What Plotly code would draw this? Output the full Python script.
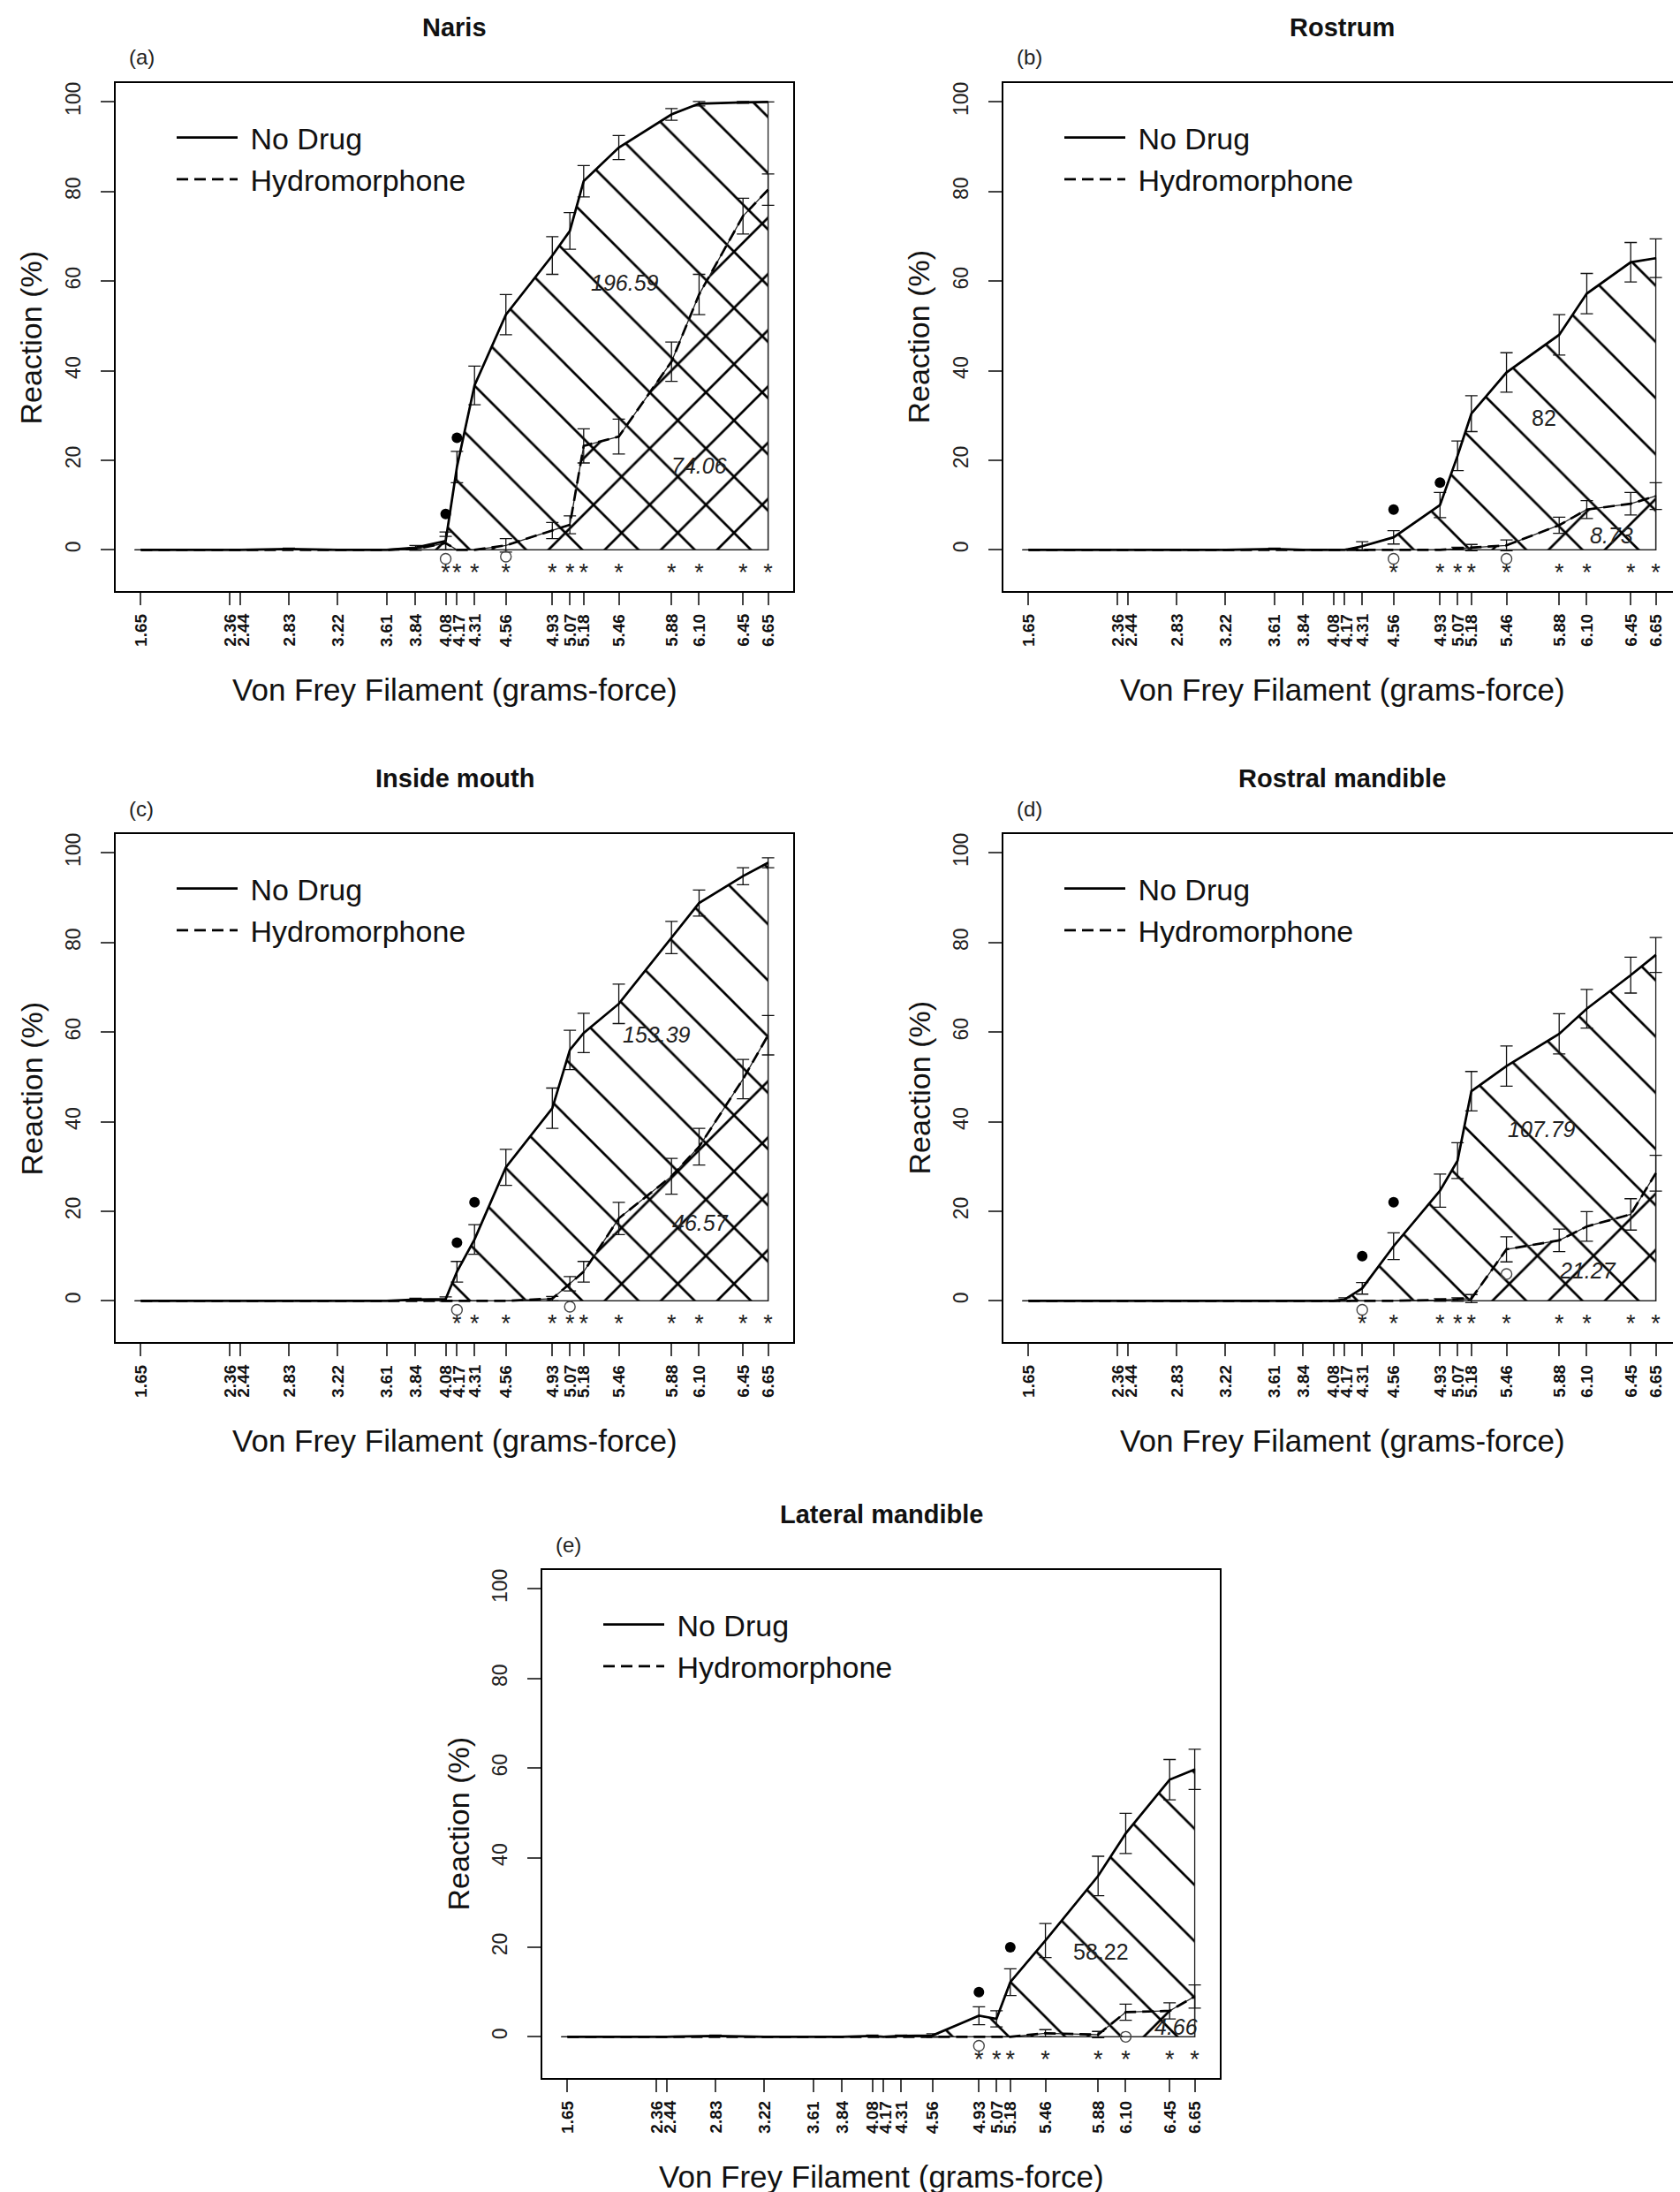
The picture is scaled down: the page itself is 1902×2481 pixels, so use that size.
import plotly.graph_objects as go

# Von Frey filaments (grams-force), x positions of every point
filaments = [1.65, 2.36, 2.44, 2.83, 3.22, 3.61, 3.84, 4.08, 4.17, 4.31,
             4.56, 4.93, 5.07, 5.18, 5.46, 5.88, 6.10, 6.45, 6.65]
filament_labels = [f'{v:.2f}' for v in filaments]
y_ticks = [0, 20, 40, 60, 80, 100]

# (a) Naris
naris_nodrug = [0, 0, 0, 0.2, 0, 0, 0.5, 2, 18.5, 36.7, 52.5, 65.7, 71.2, 82.3, 89.8, 97.2, 99.6, 99.9, 100]
naris_nodrug_se = [0, 0, 0, 0.2, 0, 0, 0.5, 2, 3.5, 4.3, 4.5, 4.2, 4.1, 3.5, 2.7, 1.3, 0.5, 0.2, 0]
naris_hydro = [0, 0, 0, 0, 0, 0, 0.2, 1.5, 0, 0, 1, 4.3, 5.6, 23.2, 25.3, 42, 57, 74.5, 80.4]
naris_hydro_se = [0, 0, 0, 0, 0, 0, 0.3, 1.5, 0, 0, 1.5, 1.8, 2, 3.8, 3.9, 4.4, 4.5, 4, 3.5]
naris_stars = [4.08, 4.17, 4.31, 4.56, 4.93, 5.07, 5.18, 5.46, 5.88, 6.10, 6.45, 6.65]
naris_open_x, naris_open_y = [4.08, 4.56], [-2, -1.5]
naris_dot_x, naris_dot_y = [4.08, 4.17], [8, 25]
naris_area_x, naris_area_y = [5.51, 6.10], [59.6, 18.9]
naris_area_text = ['196.59', '74.06']
naris_area_italic = [True, True]

# (b) Rostrum
rostrum_nodrug = [0, 0, 0, 0, 0, 0.2, 0, 0, 0, 0.8, 2.8, 10, 21, 30.4, 39.6, 48, 57.2, 64.2, 65.1]
rostrum_nodrug_se = [0, 0, 0, 0, 0, 0.2, 0, 0, 0, 1, 1.5, 2.8, 3.3, 4, 4.4, 4.5, 4.5, 4.4, 4.3]
rostrum_hydro = [0, 0, 0, 0, 0, 0, 0, 0, 0, 0, 0, 0, 0.3, 0.5, 1, 5.5, 9, 10.3, 12]
rostrum_hydro_se = [0, 0, 0, 0, 0, 0, 0, 0, 0, 0, 0, 0, 0.3, 0.7, 1.2, 1.8, 2, 2.5, 3]
rostrum_stars = [4.56, 4.93, 5.07, 5.18, 5.46, 5.88, 6.10, 6.45, 6.65]
rostrum_open_x, rostrum_open_y = [4.56, 5.46], [-2, -2]
rostrum_dot_x, rostrum_dot_y = [4.56, 4.93], [9, 15]
rostrum_area_x, rostrum_area_y = [5.76, 6.30], [29.5, 3.3]
rostrum_area_text = ['82', '8.73']
rostrum_area_italic = [False, True]

# (c) Inside mouth
mouth_nodrug = [0, 0, 0, 0, 0, 0, 0.3, 0.4, 6.5, 13.7, 29.8, 43, 56, 59.8, 66.3, 81.1, 88.8, 94.8, 97.8]
mouth_nodrug_se = [0, 0, 0, 0, 0, 0, 0.3, 0.5, 2.3, 3.3, 4, 4.5, 4.4, 4.4, 4.4, 3.6, 2.9, 1.9, 1.1]
mouth_hydro = [0, 0, 0, 0, 0, 0, 0, 0, 0, 0, 0, 0.5, 3.8, 6.5, 18.4, 27.8, 34.4, 49.5, 59.3]
mouth_hydro_se = [0, 0, 0, 0, 0, 0, 0, 0, 0, 0, 0, 0.5, 1.6, 2.3, 3.6, 4, 4.1, 4.4, 4.4]
mouth_stars = [4.17, 4.31, 4.56, 4.93, 5.07, 5.18, 5.46, 5.88, 6.10, 6.45, 6.65]
mouth_open_x, mouth_open_y = [4.17, 5.07], [-2, -1.3]
mouth_dot_x, mouth_dot_y = [4.17, 4.31], [13, 22]
mouth_area_x, mouth_area_y = [5.76, 6.11], [59.4, 17.5]
mouth_area_text = ['153.39', '46.57']
mouth_area_italic = [True, True]

# (d) Rostral mandible
rostral_nodrug = [0, 0, 0, 0, 0, 0, 0, 0, 0.3, 2.8, 12.2, 24.6, 31.3, 46.8, 52.4, 59.6, 65.2, 72.7, 77.2]
rostral_nodrug_se = [0, 0, 0, 0, 0, 0, 0, 0, 0.4, 1.3, 3, 3.7, 4, 4.4, 4.5, 4.5, 4.3, 4, 3.9]
rostral_hydro = [0, 0, 0, 0, 0, 0, 0, 0, 0, 0, 0, 0.2, 0.3, 0.5, 11.5, 13.5, 16.6, 19.3, 28.5]
rostral_hydro_se = [0, 0, 0, 0, 0, 0, 0, 0, 0, 0, 0, 0.3, 0.4, 0.9, 2.8, 2.5, 3.3, 3.5, 4]
rostral_stars = [4.31, 4.56, 4.93, 5.07, 5.18, 5.46, 5.88, 6.10, 6.45, 6.65]
rostral_open_x, rostral_open_y = [4.31, 5.46], [-2, 6]
rostral_dot_x, rostral_dot_y = [4.31, 4.56], [10, 22]
rostral_area_x, rostral_area_y = [5.74, 6.11], [38.3, 6.7]
rostral_area_text = ['107.79', '21.27']
rostral_area_italic = [True, True]

# (e) Lateral mandible
lateral_nodrug = [0, 0, 0, 0.2, 0, 0, 0, 0.2, 0, 0.2, 0.3, 4.7, 4, 12.2, 21.5, 35.9, 45.4, 57.4, 59.7]
lateral_nodrug_se = [0, 0, 0, 0.2, 0, 0, 0, 0.2, 0, 0.2, 0.4, 2, 1.8, 3, 3.8, 4.4, 4.5, 4.5, 4.5]
lateral_hydro = [0, 0, 0, 0, 0, 0, 0, 0, 0, 0, 0, 0, 0, 0, 0.8, 0.5, 5.5, 5.8, 9]
lateral_hydro_se = [0, 0, 0, 0, 0, 0, 0, 0, 0, 0, 0, 0, 0, 0, 0.8, 0.7, 1.8, 1.8, 2.6]
lateral_stars = [4.93, 5.07, 5.18, 5.46, 5.88, 6.10, 6.45, 6.65]
lateral_open_x, lateral_open_y = [4.93, 6.10], [-2, 0]
lateral_dot_x, lateral_dot_y = [4.93, 5.18], [10, 20]
lateral_area_x, lateral_area_y = [5.90, 6.50], [19, 2.2]
lateral_area_text = ['58.22', '4.66']
lateral_area_italic = [False, True]

STAR_LEVEL = -5.5

W, H = 1902, 2481
FONT = 'Liberation Sans, Arial, sans-serif'
X_RANGE = [1.45, 6.85]
BOX_W, BOX_H = 767, 575

panels = [
    dict(title='Naris', tag='(a)', nd=naris_nodrug, nd_se=naris_nodrug_se, hy=naris_hydro, hy_se=naris_hydro_se,
         stars=naris_stars, ox=naris_open_x, oy=naris_open_y, dx=naris_dot_x, dy=naris_dot_y,
         ax=naris_area_x, ay=naris_area_y, at=naris_area_text, ai=naris_area_italic, box=(123, 86)),
    dict(title='Rostrum', tag='(b)', nd=rostrum_nodrug, nd_se=rostrum_nodrug_se, hy=rostrum_hydro, hy_se=rostrum_hydro_se,
         stars=rostrum_stars, ox=rostrum_open_x, oy=rostrum_open_y, dx=rostrum_dot_x, dy=rostrum_dot_y,
         ax=rostrum_area_x, ay=rostrum_area_y, at=rostrum_area_text, ai=rostrum_area_italic, box=(1128, 86)),
    dict(title='Inside mouth', tag='(c)', nd=mouth_nodrug, nd_se=mouth_nodrug_se, hy=mouth_hydro, hy_se=mouth_hydro_se,
         stars=mouth_stars, ox=mouth_open_x, oy=mouth_open_y, dx=mouth_dot_x, dy=mouth_dot_y,
         ax=mouth_area_x, ay=mouth_area_y, at=mouth_area_text, ai=mouth_area_italic, box=(123, 936)),
    dict(title='Rostral mandible', tag='(d)', nd=rostral_nodrug, nd_se=rostral_nodrug_se, hy=rostral_hydro, hy_se=rostral_hydro_se,
         stars=rostral_stars, ox=rostral_open_x, oy=rostral_open_y, dx=rostral_dot_x, dy=rostral_dot_y,
         ax=rostral_area_x, ay=rostral_area_y, at=rostral_area_text, ai=rostral_area_italic, box=(1128, 936)),
    dict(title='Lateral mandible', tag='(e)', nd=lateral_nodrug, nd_se=lateral_nodrug_se, hy=lateral_hydro, hy_se=lateral_hydro_se,
         stars=lateral_stars, ox=lateral_open_x, oy=lateral_open_y, dx=lateral_dot_x, dy=lateral_dot_y,
         ax=lateral_area_x, ay=lateral_area_y, at=lateral_area_text, ai=lateral_area_italic, box=(606, 1769)),
]

# crowded filament labels are nudged apart like the original axis does
px_per_unit = BOX_W / (X_RANGE[1] - X_RANGE[0])
label_shift = []
last_px = None
for v in filaments:
    px = (v - X_RANGE[0]) * px_per_unit
    pos = px if last_px is None else max(px, last_px + 15)
    label_shift.append(pos - px)
    last_px = pos

fig = go.Figure()
annotations = []
layout = {}

for i, p in enumerate(panels, start=1):
    sfx = '' if i == 1 else str(i)
    xref, yref = 'x' + sfx, 'y' + sfx
    leg = 'legend' + sfx
    left, top = p['box']

    # hatched areas under each curve, closed down to zero
    poly_x = filaments + [filaments[-1], filaments[0]]
    for vals, shape in ((p['nd'], '\\'), (p['hy'], '/')):
        fig.add_trace(go.Scatter(
            x=poly_x, y=vals + [0, 0], xaxis=xref, yaxis=yref,
            mode='lines', fill='toself', fillcolor='rgba(0,0,0,0)',
            fillpattern=dict(shape=shape, size=45, solidity=0.06, fgopacity=1,
                             fgcolor='#000', bgcolor='rgba(0,0,0,0)'),
            line=dict(color='#222', width=1.3),
            showlegend=False, hoverinfo='skip'))

    # curves with standard error bars
    for vals, se, name, dash in ((p['nd'], p['nd_se'], ' No Drug', 'solid'),
                                 (p['hy'], p['hy_se'], ' Hydromorphone', '13px,7px')):
        fig.add_trace(go.Scatter(
            x=filaments, y=vals, xaxis=xref, yaxis=yref, name=name, legend=leg,
            mode='lines', line=dict(color='#000', width=2.7, dash=dash),
            error_y=dict(type='data', array=se, visible=True, color='#111',
                         thickness=1.3, width=7)))

    # significance markers
    fig.add_trace(go.Scatter(
        x=p['stars'], y=[STAR_LEVEL] * len(p['stars']), xaxis=xref, yaxis=yref,
        mode='text', text=['*'] * len(p['stars']), textposition='middle center',
        textfont=dict(family=FONT, size=27, color='#222'), showlegend=False, hoverinfo='skip'))
    fig.add_trace(go.Scatter(
        x=p['ox'], y=p['oy'], xaxis=xref, yaxis=yref, mode='markers',
        marker=dict(symbol='circle-open', size=12, color='#444', line=dict(width=1.4)),
        showlegend=False, hoverinfo='skip'))
    fig.add_trace(go.Scatter(
        x=p['dx'], y=p['dy'], xaxis=xref, yaxis=yref, mode='markers',
        marker=dict(symbol='circle', size=12, color='#000'),
        showlegend=False, hoverinfo='skip'))

    # area labels
    for x, y, t, it in zip(p['ax'], p['ay'], p['at'], p['ai']):
        annotations.append(dict(x=x, y=y, xref=xref, yref=yref, text=t, showarrow=False,
                                xanchor='center', yanchor='middle',
                                font=dict(family=FONT, size=25, color='#222',
                                          style='italic' if it else 'normal')))

    # filament tick labels (rotated, bold)
    for v, lab, sh in zip(filaments, filament_labels, label_shift):
        annotations.append(dict(x=v, y=0, xref=xref, yref=yref + ' domain', text='<b>%s</b>' % lab,
                                textangle=-90, showarrow=False, xanchor='center', yanchor='top',
                                xshift=sh, yshift=-24,
                                font=dict(family=FONT, size=19, color='#111')))

    dom_x = [left / W, (left + BOX_W) / W]
    dom_y = [1 - (top + BOX_H) / H, 1 - top / H]
    layout['xaxis' + sfx] = dict(
        domain=dom_x, anchor=yref, range=X_RANGE, showgrid=False, zeroline=False,
        showline=True, mirror=True, linecolor='#000', linewidth=2,
        tickmode='array', tickvals=filaments, showticklabels=False,
        ticks='outside', ticklen=14, tickwidth=1.5, tickcolor='#444')
    layout['yaxis' + sfx] = dict(
        domain=dom_y, anchor=xref, range=[-9.2, 104.2], showgrid=False, zeroline=False,
        showline=True, mirror=True, linecolor='#000', linewidth=2,
        tickmode='array', tickvals=y_ticks,
        ticks='outside', ticklen=15, tickwidth=1.5, tickcolor='#444',
        tickangle=-90, ticklabelstandoff=14,
        tickfont=dict(family=FONT, size=23, color='#222'))
    layout[leg] = dict(
        x=(left + 64) / W, y=1 - (top + 33) / H, xanchor='left', yanchor='top',
        bgcolor='rgba(0,0,0,0)', borderwidth=0, itemwidth=69,
        font=dict(family=FONT, size=34, color='#111'), tracegroupgap=0)

    # titles and labels
    dref = dict(xref=xref + ' domain', yref=yref + ' domain', showarrow=False,
                xanchor='center', yanchor='middle')
    annotations += [
        dict(x=0.5, y=1 + 63 / BOX_H, text='<b>%s</b>' % p['title'],
             font=dict(family=FONT, size=29, color='#111'), **dref),
        dict(x=29 / BOX_W, y=1 + 29 / BOX_H, text=p['tag'],
             font=dict(family=FONT, size=24, color='#222'), **dref),
        dict(x=0.5, y=-111 / BOX_H, text='Von Frey Filament (grams-force)',
             font=dict(family=FONT, size=35, color='#111'), **dref),
        dict(x=-96 / BOX_W, y=0.5, text='Reaction (%)', textangle=-90,
             font=dict(family=FONT, size=34, color='#111'), **dref),
    ]

fig.update_layout(
    width=W, height=H, margin=dict(l=0, r=0, t=0, b=0),
    paper_bgcolor='white', plot_bgcolor='white',
    annotations=annotations, **layout)

fig.write_html('out.html')
